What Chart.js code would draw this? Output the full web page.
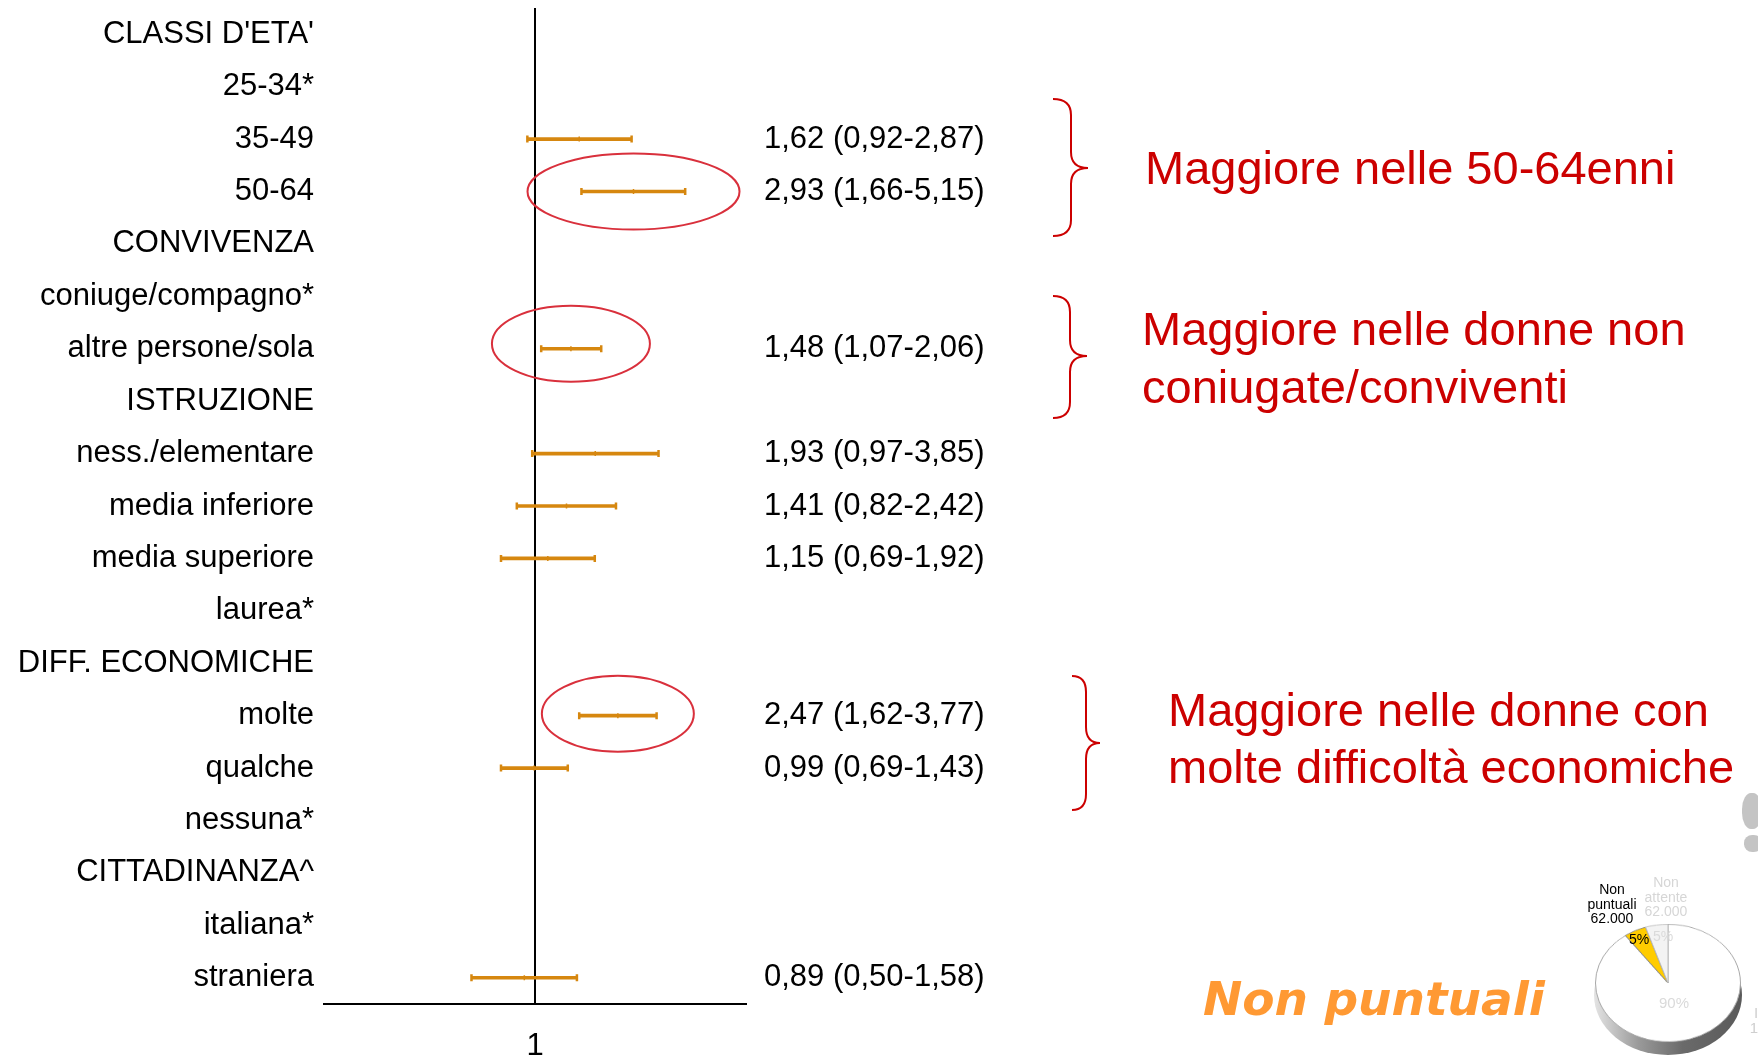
<!DOCTYPE html>
<html lang="it">
<head>
<meta charset="utf-8">
<title>Forest plot - non puntuali</title>
<script src="https://cdn.jsdelivr.net/npm/chart.js"></script>
<style>
  html, body { margin: 0; padding: 0; background: #fff; }
  #wrap { position: relative; width: 1758px; height: 1060px; overflow: hidden; }
  #forest { position: absolute; left: 0; top: 0; }
  .note { position: absolute; color: #cc0000; font-family: "Liberation Sans", Arial, sans-serif; font-size: 47px; white-space: nowrap; }
  #title { position: absolute; left: 1203px; top: 975px; color: #ff9933; font-family: "DejaVu Sans", Verdana, sans-serif;
           font-weight: bold; font-style: italic; font-size: 47px; line-height: 47px; white-space: nowrap; }
  #pieShadow { position: absolute; left: 1594px; top: 935px; width: 148px; height: 120px; border-radius: 50%;
               background: linear-gradient(to right, #e4e4e4 0%, #9a9a9a 30%, #6a6a6a 60%, #5a5a5a 100%); }
  #pie { position: absolute; left: 1594px; top: 909px; transform: scaleY(0.81); transform-origin: 50% 50%; }
  .pl { position: absolute; font-family: "Liberation Sans", Arial, sans-serif; font-size: 14px; line-height: 14.5px;
        text-align: center; white-space: nowrap; transform: translateX(-50%); }
  .blob { position: absolute; background: #b5b5b5; border-radius: 45%; opacity: 0.8; }
</style>
</head>
<body>
<div id="wrap">
  <canvas id="forest" width="1758" height="1060"></canvas>

  <div class="note" style="left:1145px; top:144px; line-height:47px;">Maggiore nelle 50-64enni</div>
  <div class="note" style="left:1142px; top:300px; line-height:58px;">Maggiore nelle donne non<br>coniugate/conviventi</div>
  <div class="note" style="left:1168px; top:681px; line-height:57px;">Maggiore nelle donne con<br>molte difficoltà economiche</div>

  <div id="title">Non puntuali</div>

  <div id="pieShadow"></div>
  <canvas id="pie" width="148" height="148"></canvas>
  <div class="pl" style="left:1612px; top:882px; color:#000;">Non<br>puntuali<br>62.000</div>
  <div class="pl" style="left:1666px; top:875px; color:#d6d6d6;">Non<br>attente<br>62.000</div>
  <div class="pl" style="left:1639px; top:932px; color:#000;">5%</div>
  <div class="pl" style="left:1663px; top:929px; color:#dadada;">5%</div>
  <div class="pl" style="left:1674px; top:996px; color:#dadada; font-size:15px;">90%</div>
  <div class="pl" style="left:1756px; top:1006px; color:#cfcfcf; font-size:15px;">I<br>1.</div>
  <div class="blob" style="left:1742px; top:793px; width:20px; height:36px;"></div>
  <div class="blob" style="left:1744px; top:835px; width:18px; height:17px;"></div>
</div>

<script>
// righe del forest plot (dall'alto in basso)
const rowLabels = ["CLASSI D'ETA'", "25-34*", "35-49", "50-64", "CONVIVENZA", "coniuge/compagno*",
  "altre persone/sola", "ISTRUZIONE", "ness./elementare", "media inferiore", "media superiore", "laurea*",
  "DIFF. ECONOMICHE", "molte", "qualche", "nessuna*", "CITTADINANZA^", "italiana*", "straniera"];

// odds ratio e intervallo di confidenza
const orValues = [null, null, 1.62, 2.93, null, null, 1.48, null, 1.93, 1.41, 1.15, null, null, 2.47, 0.99, null, null, null, 0.89];
const ciLower  = [null, null, 0.92, 1.66, null, null, 1.07, null, 0.97, 0.82, 0.69, null, null, 1.62, 0.69, null, null, null, 0.50];
const ciUpper  = [null, null, 2.87, 5.15, null, null, 2.06, null, 3.85, 2.42, 1.92, null, null, 3.77, 1.43, null, null, null, 1.58];

const xTicks = [1];
const xMin = 0.1;
const xMax = 10;

// torta "Non puntuali"
const pieLabels = ['Puntuali', 'Non puntuali', 'Non attente'];
const pieValues = [90, 5, 5];

const orange = '#d6870f';
const fmt = v => v.toFixed(2).replace('.', ',');
const valueLabels = orValues.map((v, i) => v == null ? '' : `${fmt(v)} (${fmt(ciLower[i])}-${fmt(ciUpper[i])})`);

const ciBars = ciLower.map((lo, i) => lo == null ? null : [lo, ciUpper[i]]);
const capPoints = [];
const estPoints = [];
rowLabels.forEach((lab, i) => {
    if (orValues[i] == null) return;
    capPoints.push({x: ciLower[i], y: lab}, {x: ciUpper[i], y: lab});
    estPoints.push({x: orValues[i], y: lab});
});

// ellissi e parentesi graffe in rosso
const notesPlugin = {
    id: 'notes',
    afterDatasetsDraw(chart) {
        const ctx = chart.ctx;
        const xs = chart.scales.x;
        const ys = chart.scales.y;
        ctx.save();
        ctx.strokeStyle = '#d9303c';
        ctx.lineWidth = 2;
        [['50-64', 106, 0], ['altre persone/sola', 79, -5], ['molte', 76, -2]].forEach(([lab, rx, dy]) => {
            const i = rowLabels.indexOf(lab);
            const cx = xs.getPixelForValue(orValues[i]);
            const cy = ys.getPixelForValue(i) + dy;
            ctx.beginPath();
            ctx.ellipse(cx, cy, rx, 38, 0, 0, Math.PI * 2);
            ctx.stroke();
        });

        ctx.strokeStyle = '#cc0000';
        ctx.lineWidth = 2;
        [[1053, 1071, 1088, 99, 168, 236], [1053, 1070, 1087, 296, 356, 418], [1072, 1086, 1100, 676, 743, 810]]
            .forEach(([xl, xv, xt, top, mid, bottom]) => {
                const r = 16;
                ctx.beginPath();
                ctx.moveTo(xl, top);
                ctx.quadraticCurveTo(xv, top, xv, top + r);
                ctx.lineTo(xv, mid - r);
                ctx.quadraticCurveTo(xv, mid, xt, mid);
                ctx.quadraticCurveTo(xv, mid, xv, mid + r);
                ctx.lineTo(xv, bottom - r);
                ctx.quadraticCurveTo(xv, bottom, xl, bottom);
                ctx.stroke();
            });
        ctx.restore();
    }
};

const labelFont = {family: '"Liberation Sans", Arial, sans-serif', size: 31};

// le etichette stanno al centro delle bande: niente padding extra sopra/sotto
const fitY = w => s => {
    s.width = w;
    s.paddingTop = 0;
    s.paddingBottom = 0;
};

new Chart(document.getElementById('forest'), {
    type: 'bar',
    data: {
        labels: rowLabels,
        datasets: [
            {
                type: 'bar',
                label: 'IC 95%',
                data: ciBars,
                backgroundColor: orange,
                borderWidth: 0,
                barThickness: 3
            },
            {
                type: 'scatter',
                label: 'estremi',
                data: capPoints,
                pointStyle: 'line',
                rotation: 90,
                radius: 3.5,
                borderWidth: 2.5,
                borderColor: orange
            },
            {
                type: 'scatter',
                label: 'OR',
                data: estPoints,
                pointStyle: 'line',
                rotation: 90,
                radius: 2.5,
                borderWidth: 1.5,
                borderColor: orange
            }
        ]
    },
    options: {
        indexAxis: 'y',
        responsive: false,
        animation: false,
        events: [],
        layout: {padding: {top: 8, left: 0, right: 772, bottom: 0}},
        plugins: {legend: {display: false}, tooltip: {enabled: false}},
        scales: {
            x: {
                type: 'logarithmic',
                position: 'bottom',
                min: xMin,
                max: xMax,
                afterBuildTicks: s => { s.ticks = xTicks.map(v => ({value: v})); },
                afterFit: s => { s.height = 56; s.paddingLeft = 0; s.paddingRight = 0; },
                grid: {color: '#000', lineWidth: 2, drawTicks: false},
                border: {display: true, color: '#000', width: 2},
                ticks: {color: '#000', font: labelFont, padding: 24, callback: v => String(v)}
            },
            y: {
                type: 'category',
                position: 'left',
                offset: true,
                afterFit: fitY(324),
                grid: {display: false, drawTicks: false},
                border: {display: false},
                ticks: {color: '#000', font: labelFont, padding: 10, autoSkip: false}
            },
            yValues: {
                type: 'category',
                position: 'right',
                labels: valueLabels,
                offset: true,
                afterFit: fitY(240),
                grid: {display: false, drawTicks: false},
                border: {display: false},
                ticks: {color: '#000', font: labelFont, padding: 18, autoSkip: false}
            }
        }
    },
    plugins: [notesPlugin]
});

new Chart(document.getElementById('pie'), {
    type: 'pie',
    data: {
        labels: pieLabels,
        datasets: [{
            data: pieValues,
            backgroundColor: ['#ffffff', '#ffcc00', '#f3f3f3'],
            borderColor: ['#a8a8a8', '#8a8a8a', '#bdbdbd'],
            borderWidth: 1
        }]
    },
    options: {
        responsive: false,
        animation: false,
        events: [],
        layout: {padding: 1},
        plugins: {legend: {display: false}, tooltip: {enabled: false}}
    }
});
</script>
</body>
</html>
